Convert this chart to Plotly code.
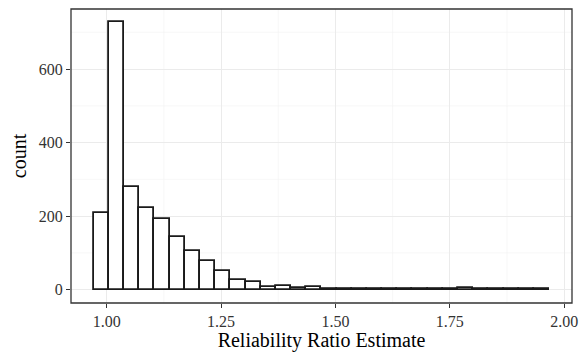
import plotly.graph_objects as go

# Histogram data (30 bins, ggplot2 style)
bin_start = 0.9717
bin_width = 0.03317
counts = [208, 727, 279, 221, 191, 143, 106, 79, 51, 27,
          20, 6, 11, 4, 7, 3, 2, 1, 2, 1,
          1, 1, 2, 1, 4, 1, 1, 1, 1, 1]
x_ticks = [1.00, 1.25, 1.50, 1.75, 2.00]
x_tick_labels = ["1.00", "1.25", "1.50", "1.75", "2.00"]
y_ticks = [0, 200, 400, 600]

centers = [bin_start + bin_width * (i + 0.5) for i in range(len(counts))]

fig = go.Figure()
fig.add_trace(go.Bar(
    x=centers, y=counts, width=[bin_width] * len(counts),
    marker=dict(color="white", line=dict(color="#1a1a1a", width=1.8)),
    showlegend=False,
))

font_family = "Liberation Serif"
minor_x = [1.125, 1.375, 1.625, 1.875]
minor_y = [100, 300, 500, 700]
shapes = []
for v in minor_x:
    shapes.append(dict(type="line", xref="x", yref="paper", x0=v, x1=v, y0=0, y1=1,
                       line=dict(color="#F2F2F2", width=0.6), layer="below"))
for v in minor_y:
    shapes.append(dict(type="line", xref="paper", yref="y", x0=0, x1=1, y0=v, y1=v,
                       line=dict(color="#F2F2F2", width=0.6), layer="below"))
shapes.append(dict(type="rect", xref="paper", yref="paper", x0=0, x1=1, y0=0, y1=1,
                   line=dict(color="#333333", width=1.3), fillcolor="rgba(0,0,0,0)", layer="above"))

fig.update_layout(
    width=582, height=352,
    margin=dict(l=71, r=10, t=9, b=49),
    paper_bgcolor="white", plot_bgcolor="white",
    font=dict(family=font_family, color="#000000"),
    bargap=0,
    shapes=shapes,
    xaxis=dict(
        range=[0.922, 2.017], tickvals=x_ticks, ticktext=x_tick_labels,
        showgrid=True, gridcolor="#EBEBEB", gridwidth=1.1, zeroline=False,
        ticks="outside", ticklen=4, tickcolor="#333333", tickwidth=1.1,
        tickfont=dict(size=16, color="#333333", family=font_family),
        title=dict(text="Reliability Ratio Estimate", font=dict(size=20, family=font_family), standoff=3),
        showline=False, automargin=False,
    ),
    yaxis=dict(
        range=[-36.35, 763.35], tickvals=y_ticks,
        showgrid=True, gridcolor="#EBEBEB", gridwidth=1.1, zeroline=False,
        ticks="outside", ticklen=4, tickcolor="#333333", tickwidth=1.1,
        tickfont=dict(size=16, color="#333333", family=font_family),
        title=dict(text="count", font=dict(size=20, family=font_family), standoff=6),
        showline=False, automargin=False,
    ),
)

fig.write_html("out.html", config={"displayModeBar": False},
               post_script="document.body.style.margin='0';document.body.style.padding='0';")
